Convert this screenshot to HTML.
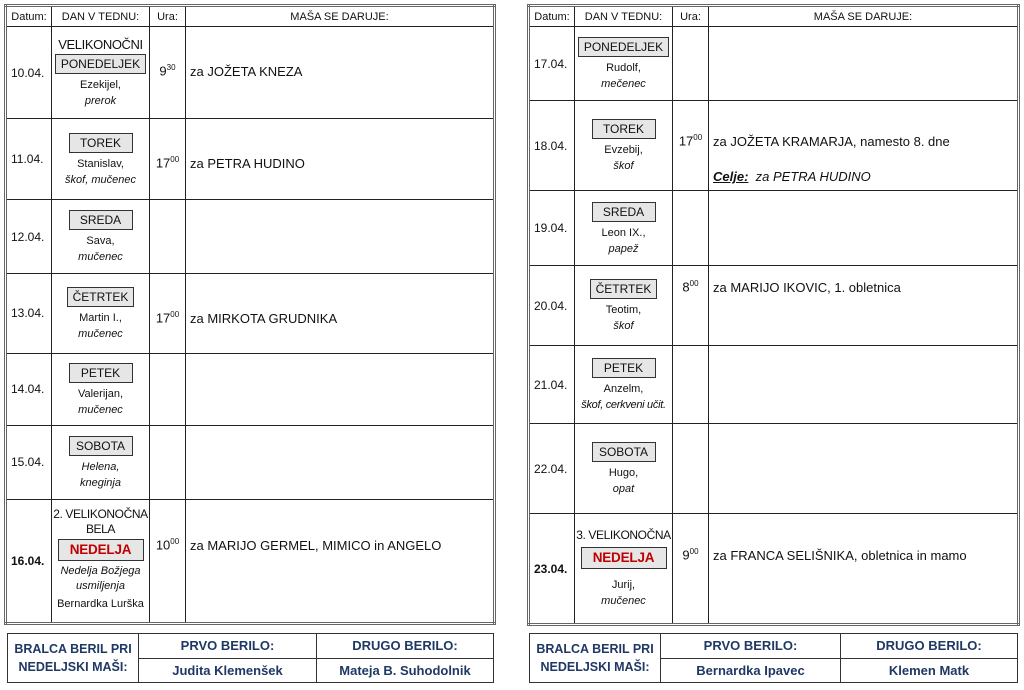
<!DOCTYPE html>
<html><head><meta charset="utf-8">
<style>
body{margin:0;width:1024px;height:690px;background:#fff;font-family:"Liberation Sans",sans-serif;color:#111;position:relative;overflow:hidden}
table{border-collapse:collapse;table-layout:fixed;position:absolute}
.main{border:3px double #666}
.main td{border:1px solid #222;padding:0;vertical-align:middle;overflow:hidden}
.hd td{font-size:11px;text-align:center;height:19px}
.dt{font-size:12px;padding-left:4px!important}
.day{text-align:center;font-size:11px;line-height:16px;white-space:nowrap}
.box{display:inline-block;background:#e6e6e6;border:1px solid #333;font-size:12px;line-height:18px;padding:0 5px;margin:2px 0 3px;min-width:52px}
.big{font-size:12px;line-height:15px;letter-spacing:-0.4px;white-space:nowrap}
.red{color:#c00000;font-weight:bold;font-size:13.5px;line-height:20px;min-width:74px;letter-spacing:-0.2px}
.t{vertical-align:top!important;text-align:center;font-size:13px}
.m{vertical-align:top!important;font-size:13px;padding-left:4px!important}
sup{font-size:8px}
.bt{border:1px solid #333}
.bt td{border:1px solid #333;text-align:center;font-weight:bold;color:#1f3864;font-size:13px}
</style></head><body>

<table class="main" style="left:4px;top:4px;width:492px;height:621px">
<colgroup><col style="width:46px"><col style="width:98px"><col style="width:36px"><col></colgroup>
<tr class="hd"><td>Datum:</td><td>DAN V TEDNU:</td><td>Ura:</td><td>MAŠA SE DARUJE:</td></tr>
<tr style="height:92px"><td class="dt">10.04.</td><td class="day"><div class="big" style="font-size:13px">VELIKONOČNI</div><span class="box">PONEDELJEK</span><br>Ezekijel,<br><i>prerok</i></td><td class="t" style="padding-top:36px">9<sup>30</sup></td><td class="m" style="padding-top:37px">za JOŽETA KNEZA</td></tr>
<tr style="height:81px"><td class="dt">11.04.</td><td class="day"><span class="box">TOREK</span><br>Stanislav,<br><i>škof, mučenec</i></td><td class="t" style="padding-top:36px">17<sup>00</sup></td><td class="m" style="padding-top:37px">za PETRA HUDINO</td></tr>
<tr style="height:74px"><td class="dt">12.04.</td><td class="day"><span class="box">SREDA</span><br>Sava,<br><i>mučenec</i></td><td></td><td></td></tr>
<tr style="height:79px"><td class="dt">13.04.</td><td class="day"><span class="box">ČETRTEK</span><br>Martin I.,<br><i>mučenec</i></td><td class="t" style="padding-top:36px">17<sup>00</sup></td><td class="m" style="padding-top:37px">za MIRKOTA GRUDNIKA</td></tr>
<tr style="height:72px"><td class="dt">14.04.</td><td class="day"><span class="box">PETEK</span><br>Valerijan,<br><i>mučenec</i></td><td></td><td></td></tr>
<tr style="height:74px"><td class="dt">15.04.</td><td class="day"><span class="box">SOBOTA</span><br><i>Helena,<br>kneginja</i></td><td></td><td></td></tr>
<tr style="height:124px"><td class="dt"><b>16.04.</b></td><td class="day" style="line-height:15px"><div class="big">2. VELIKONOČNA<br>BELA</div><span class="box red">NEDELJA</span><br><i>Nedelja Božjega<br>usmiljenja</i><br><span style="line-height:20px">Bernardka Lurška</span></td><td class="t" style="padding-top:37px">10<sup>00</sup></td><td class="m" style="padding-top:38px">za MARIJO GERMEL, MIMICO in ANGELO</td></tr>
</table>

<table class="main" style="left:527px;top:4px;width:493px;height:621px">
<colgroup><col style="width:46px"><col style="width:98px"><col style="width:36px"><col></colgroup>
<tr class="hd"><td>Datum:</td><td>DAN V TEDNU:</td><td>Ura:</td><td>MAŠA SE DARUJE:</td></tr>
<tr style="height:74px"><td class="dt">17.04.</td><td class="day"><span class="box">PONEDELJEK</span><br>Rudolf,<br><i>mečenec</i></td><td></td><td></td></tr>
<tr style="height:90px"><td class="dt">18.04.</td><td class="day"><span class="box">TOREK</span><br>Evzebij,<br><i>škof</i></td><td class="t" style="padding-top:32px">17<sup>00</sup></td><td class="m" style="padding-top:33px">za JOŽETA KRAMARJA, namesto 8. dne<div style="margin-top:20px"><i><b><u>Celje:</u></b>&nbsp; za PETRA HUDINO</i></div></td></tr>
<tr style="height:75px"><td class="dt">19.04.</td><td class="day"><span class="box">SREDA</span><br>Leon IX.,<br><i>papež</i></td><td></td><td></td></tr>
<tr style="height:80px"><td class="dt">20.04.</td><td class="day"><span class="box">ČETRTEK</span><br>Teotim,<br><i>škof</i></td><td class="t" style="padding-top:13px">8<sup>00</sup></td><td class="m" style="padding-top:14px">za MARIJO IKOVIC, 1. obletnica</td></tr>
<tr style="height:78px"><td class="dt">21.04.</td><td class="day"><span class="box">PETEK</span><br>Anzelm,<br><i style="letter-spacing:-0.3px">škof, cerkveni učit.</i></td><td></td><td></td></tr>
<tr style="height:90px"><td class="dt">22.04.</td><td class="day"><span class="box">SOBOTA</span><br>Hugo,<br><i>opat</i></td><td></td><td></td></tr>
<tr style="height:111px"><td class="dt"><b>23.04.</b></td><td class="day"><div class="big">3. VELIKONOČNA</div><span class="box red" style="margin:4px 0 8px">NEDELJA</span><br>Jurij,<br><i>mučenec</i></td><td class="t" style="padding-top:33px">9<sup>00</sup></td><td class="m" style="padding-top:34px">za FRANCA SELIŠNIKA, obletnica in mamo</td></tr>
</table>

<table class="bt" style="left:7px;top:633px;width:487px;height:50px">
<colgroup><col style="width:131px"><col style="width:178px"><col></colgroup>
<tr><td rowspan="2" style="font-size:12.5px;line-height:18px">BRALCA BERIL PRI<br>NEDELJSKI MAŠI:</td><td>PRVO BERILO:</td><td>DRUGO BERILO:</td></tr>
<tr><td>Judita Klemenšek</td><td>Mateja B. Suhodolnik</td></tr>
</table>

<table class="bt" style="left:529px;top:633px;width:489px;height:50px">
<colgroup><col style="width:131px"><col style="width:180px"><col></colgroup>
<tr><td rowspan="2" style="font-size:12.5px;line-height:18px">BRALCA BERIL PRI<br>NEDELJSKI MAŠI:</td><td>PRVO BERILO:</td><td>DRUGO BERILO:</td></tr>
<tr><td>Bernardka Ipavec</td><td>Klemen Matk</td></tr>
</table>
</body></html>
